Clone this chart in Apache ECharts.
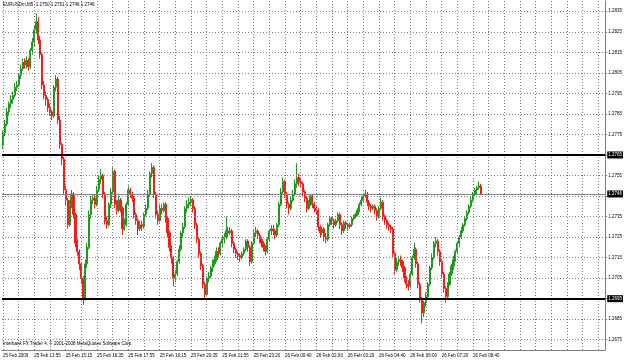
<!doctype html>
<html lang="en">
<head>
    <meta charset="utf-8">
    <title>EURUSDm,M5</title>
    <style>
        html, body { margin: 0; padding: 0; background: #fff; }
        #chart { width: 625px; height: 360px; }
    </style>
</head>
<body>
    <div id="chart"></div>
    <script src="https://cdn.jsdelivr.net/npm/echarts@6/dist/echarts.min.js"></script>
    <script>
        // M5 bars shown on the x axis (the empty tail is the chart shift)
        var barSlots = 308;

        // one label every 16 bars
        var timeLabels = ['25 Feb 2009', '25 Feb 13:55', '25 Feb 15:15', '25 Feb 16:35', '25 Feb 17:55',
            '25 Feb 19:15', '25 Feb 20:35', '25 Feb 21:55', '25 Feb 23:20', '26 Feb 00:40',
            '26 Feb 02:00', '26 Feb 03:20', '26 Feb 04:40', '26 Feb 06:00', '26 Feb 07:20', '26 Feb 08:40'];

        var priceTicks = [1.2675, 1.2685, 1.2695, 1.2705, 1.2715, 1.2725, 1.2735, 1.2745, 1.2755,
            1.2765, 1.2775, 1.2785, 1.2795, 1.2805, 1.2815, 1.2825, 1.2835];

        // horizontal lines drawn by the trader, and the last bid
        var levelLines = [1.2765, 1.2695];
        var lastPrice = 1.2746;

        // [open, close, low, high]
        var candles = [
            [1.2770, 1.2776, 1.2768, 1.2777], [1.2776, 1.2780, 1.2774, 1.2782], [1.2780, 1.2786, 1.2779, 1.2788], [1.2786, 1.2790, 1.2784, 1.2791],
            [1.2790, 1.2792, 1.2788, 1.2794], [1.2792, 1.2794, 1.2790, 1.2796], [1.2794, 1.2798, 1.2793, 1.2800], [1.2798, 1.2799, 1.2796, 1.2801],
            [1.2799, 1.2804, 1.2798, 1.2805], [1.2804, 1.2807, 1.2802, 1.2809], [1.2807, 1.2810, 1.2806, 1.2812], [1.2810, 1.2809, 1.2807, 1.2812],
            [1.2809, 1.2811, 1.2807, 1.2813], [1.2811, 1.2808, 1.2806, 1.2812], [1.2808, 1.2816, 1.2807, 1.2817], [1.2816, 1.2820, 1.2814, 1.2822],
            [1.2820, 1.2826, 1.2818, 1.2828], [1.2826, 1.2830, 1.2824, 1.2834], [1.2830, 1.2821, 1.2819, 1.2832], [1.2821, 1.2814, 1.2812, 1.2823],
            [1.2814, 1.2799, 1.2797, 1.2815], [1.2799, 1.2794, 1.2792, 1.2801], [1.2794, 1.2792, 1.2789, 1.2796], [1.2792, 1.2788, 1.2786, 1.2793],
            [1.2788, 1.2786, 1.2784, 1.2790], [1.2786, 1.2784, 1.2782, 1.2787], [1.2784, 1.2798, 1.2783, 1.2799], [1.2798, 1.2802, 1.2796, 1.2804],
            [1.2802, 1.2782, 1.2780, 1.2803], [1.2782, 1.2770, 1.2768, 1.2784], [1.2770, 1.2763, 1.2760, 1.2771], [1.2763, 1.2748, 1.2746, 1.2764],
            [1.2748, 1.2743, 1.2740, 1.2750], [1.2743, 1.2731, 1.2729, 1.2744], [1.2731, 1.2741, 1.2730, 1.2743], [1.2741, 1.2746, 1.2739, 1.2748],
            [1.2746, 1.2736, 1.2734, 1.2747], [1.2736, 1.2722, 1.2720, 1.2737], [1.2722, 1.2718, 1.2716, 1.2724], [1.2718, 1.2712, 1.2709, 1.2719],
            [1.2712, 1.2705, 1.2702, 1.2713], [1.2705, 1.2695, 1.2692, 1.2706], [1.2695, 1.2712, 1.2694, 1.2714], [1.2712, 1.2720, 1.2710, 1.2722],
            [1.2720, 1.2736, 1.2719, 1.2738], [1.2736, 1.2743, 1.2734, 1.2745], [1.2743, 1.2744, 1.2741, 1.2746], [1.2744, 1.2741, 1.2739, 1.2746],
            [1.2741, 1.2748, 1.2740, 1.2750], [1.2748, 1.2753, 1.2747, 1.2755], [1.2753, 1.2755, 1.2751, 1.2758], [1.2755, 1.2746, 1.2744, 1.2756],
            [1.2746, 1.2733, 1.2731, 1.2747], [1.2733, 1.2731, 1.2729, 1.2735], [1.2731, 1.2741, 1.2730, 1.2742], [1.2741, 1.2747, 1.2739, 1.2749],
            [1.2747, 1.2757, 1.2746, 1.2759], [1.2757, 1.2741, 1.2739, 1.2758], [1.2741, 1.2738, 1.2736, 1.2743], [1.2738, 1.2743, 1.2737, 1.2745],
            [1.2743, 1.2739, 1.2737, 1.2744], [1.2739, 1.2729, 1.2726, 1.2740], [1.2729, 1.2731, 1.2728, 1.2734], [1.2731, 1.2741, 1.2730, 1.2742],
            [1.2741, 1.2748, 1.2740, 1.2750], [1.2748, 1.2746, 1.2744, 1.2749], [1.2746, 1.2744, 1.2742, 1.2747], [1.2744, 1.2736, 1.2734, 1.2745],
            [1.2736, 1.2733, 1.2731, 1.2737], [1.2733, 1.2729, 1.2726, 1.2734], [1.2729, 1.2731, 1.2728, 1.2733], [1.2731, 1.2730, 1.2728, 1.2733],
            [1.2730, 1.2736, 1.2729, 1.2737], [1.2736, 1.2739, 1.2735, 1.2741], [1.2739, 1.2746, 1.2738, 1.2748], [1.2746, 1.2756, 1.2745, 1.2757],
            [1.2756, 1.2759, 1.2754, 1.2761], [1.2759, 1.2746, 1.2744, 1.2760], [1.2746, 1.2736, 1.2734, 1.2747], [1.2736, 1.2733, 1.2731, 1.2738],
            [1.2733, 1.2739, 1.2732, 1.2741], [1.2739, 1.2738, 1.2736, 1.2741], [1.2738, 1.2741, 1.2737, 1.2742], [1.2741, 1.2734, 1.2732, 1.2742],
            [1.2734, 1.2727, 1.2725, 1.2735], [1.2727, 1.2720, 1.2718, 1.2728], [1.2720, 1.2715, 1.2712, 1.2721], [1.2715, 1.2705, 1.2701, 1.2716],
            [1.2705, 1.2707, 1.2703, 1.2709], [1.2707, 1.2713, 1.2706, 1.2714], [1.2713, 1.2719, 1.2712, 1.2721], [1.2719, 1.2727, 1.2718, 1.2728],
            [1.2727, 1.2730, 1.2725, 1.2732], [1.2730, 1.2739, 1.2729, 1.2740], [1.2739, 1.2741, 1.2737, 1.2743], [1.2741, 1.2742, 1.2739, 1.2744],
            [1.2742, 1.2743, 1.2740, 1.2745], [1.2743, 1.2739, 1.2737, 1.2744], [1.2739, 1.2731, 1.2729, 1.2740], [1.2731, 1.2724, 1.2722, 1.2732],
            [1.2724, 1.2717, 1.2715, 1.2725], [1.2717, 1.2711, 1.2709, 1.2718], [1.2711, 1.2702, 1.2700, 1.2712], [1.2702, 1.2697, 1.2695, 1.2703],
            [1.2697, 1.2705, 1.2696, 1.2706], [1.2705, 1.2706, 1.2703, 1.2708], [1.2706, 1.2710, 1.2705, 1.2711], [1.2710, 1.2712, 1.2708, 1.2714],
            [1.2712, 1.2714, 1.2711, 1.2716], [1.2714, 1.2718, 1.2713, 1.2720], [1.2718, 1.2717, 1.2715, 1.2720], [1.2717, 1.2722, 1.2716, 1.2723],
            [1.2722, 1.2724, 1.2720, 1.2726], [1.2724, 1.2725, 1.2722, 1.2727], [1.2725, 1.2728, 1.2724, 1.2735], [1.2728, 1.2727, 1.2725, 1.2730],
            [1.2727, 1.2728, 1.2726, 1.2730], [1.2728, 1.2722, 1.2720, 1.2729], [1.2722, 1.2719, 1.2717, 1.2723], [1.2719, 1.2717, 1.2715, 1.2720],
            [1.2717, 1.2716, 1.2714, 1.2718], [1.2716, 1.2715, 1.2713, 1.2717], [1.2715, 1.2717, 1.2714, 1.2718], [1.2717, 1.2719, 1.2716, 1.2720],
            [1.2719, 1.2723, 1.2718, 1.2724], [1.2723, 1.2720, 1.2718, 1.2724], [1.2720, 1.2713, 1.2711, 1.2721], [1.2713, 1.2722, 1.2712, 1.2723],
            [1.2722, 1.2727, 1.2721, 1.2729], [1.2727, 1.2728, 1.2725, 1.2730], [1.2728, 1.2726, 1.2724, 1.2729], [1.2726, 1.2724, 1.2722, 1.2727],
            [1.2724, 1.2722, 1.2720, 1.2725], [1.2722, 1.2720, 1.2718, 1.2723], [1.2720, 1.2718, 1.2716, 1.2721], [1.2718, 1.2724, 1.2717, 1.2725],
            [1.2724, 1.2728, 1.2723, 1.2729], [1.2728, 1.2729, 1.2726, 1.2731], [1.2729, 1.2728, 1.2726, 1.2731], [1.2728, 1.2726, 1.2724, 1.2729],
            [1.2726, 1.2731, 1.2725, 1.2732], [1.2731, 1.2741, 1.2730, 1.2742], [1.2741, 1.2747, 1.2740, 1.2749], [1.2747, 1.2752, 1.2746, 1.2754],
            [1.2752, 1.2746, 1.2744, 1.2753], [1.2746, 1.2741, 1.2739, 1.2747], [1.2741, 1.2739, 1.2736, 1.2742], [1.2739, 1.2743, 1.2738, 1.2745],
            [1.2743, 1.2746, 1.2742, 1.2748], [1.2746, 1.2751, 1.2745, 1.2753], [1.2751, 1.2754, 1.2749, 1.2761], [1.2754, 1.2752, 1.2750, 1.2756],
            [1.2752, 1.2751, 1.2749, 1.2754], [1.2751, 1.2747, 1.2745, 1.2752], [1.2747, 1.2744, 1.2742, 1.2748], [1.2744, 1.2739, 1.2737, 1.2745],
            [1.2739, 1.2741, 1.2738, 1.2743], [1.2741, 1.2745, 1.2740, 1.2746], [1.2745, 1.2741, 1.2739, 1.2746], [1.2741, 1.2739, 1.2737, 1.2742],
            [1.2739, 1.2738, 1.2736, 1.2740], [1.2738, 1.2730, 1.2728, 1.2739], [1.2730, 1.2727, 1.2725, 1.2731], [1.2727, 1.2729, 1.2726, 1.2730],
            [1.2729, 1.2725, 1.2723, 1.2730], [1.2725, 1.2724, 1.2722, 1.2727], [1.2724, 1.2731, 1.2723, 1.2732], [1.2731, 1.2734, 1.2730, 1.2735],
            [1.2734, 1.2733, 1.2731, 1.2735], [1.2733, 1.2731, 1.2729, 1.2734], [1.2731, 1.2733, 1.2730, 1.2734], [1.2733, 1.2736, 1.2732, 1.2737],
            [1.2736, 1.2731, 1.2729, 1.2737], [1.2731, 1.2728, 1.2726, 1.2732], [1.2728, 1.2732, 1.2727, 1.2733], [1.2732, 1.2731, 1.2729, 1.2733],
            [1.2731, 1.2730, 1.2728, 1.2732], [1.2730, 1.2731, 1.2729, 1.2732], [1.2731, 1.2734, 1.2730, 1.2735], [1.2734, 1.2735, 1.2733, 1.2736],
            [1.2735, 1.2736, 1.2734, 1.2737], [1.2736, 1.2738, 1.2735, 1.2739], [1.2738, 1.2741, 1.2737, 1.2742], [1.2741, 1.2743, 1.2740, 1.2745],
            [1.2743, 1.2745, 1.2742, 1.2746], [1.2745, 1.2746, 1.2744, 1.2748], [1.2746, 1.2742, 1.2740, 1.2747], [1.2742, 1.2740, 1.2738, 1.2743],
            [1.2740, 1.2739, 1.2737, 1.2741], [1.2739, 1.2740, 1.2738, 1.2741], [1.2740, 1.2738, 1.2736, 1.2741], [1.2738, 1.2735, 1.2733, 1.2739],
            [1.2735, 1.2739, 1.2734, 1.2740], [1.2739, 1.2742, 1.2738, 1.2744], [1.2742, 1.2735, 1.2733, 1.2743], [1.2735, 1.2733, 1.2731, 1.2736],
            [1.2733, 1.2731, 1.2729, 1.2734], [1.2731, 1.2730, 1.2728, 1.2732], [1.2730, 1.2729, 1.2727, 1.2731], [1.2729, 1.2717, 1.2715, 1.2730],
            [1.2717, 1.2709, 1.2707, 1.2718], [1.2709, 1.2713, 1.2708, 1.2715], [1.2713, 1.2714, 1.2711, 1.2716], [1.2714, 1.2713, 1.2711, 1.2716],
            [1.2713, 1.2710, 1.2708, 1.2714], [1.2710, 1.2705, 1.2703, 1.2711], [1.2705, 1.2702, 1.2700, 1.2706], [1.2702, 1.2701, 1.2699, 1.2704],
            [1.2701, 1.2707, 1.2700, 1.2708], [1.2707, 1.2715, 1.2706, 1.2716], [1.2715, 1.2719, 1.2714, 1.2722], [1.2719, 1.2712, 1.2710, 1.2720],
            [1.2712, 1.2702, 1.2700, 1.2713], [1.2702, 1.2695, 1.2693, 1.2703], [1.2695, 1.2688, 1.2683, 1.2696], [1.2688, 1.2693, 1.2686, 1.2694],
            [1.2693, 1.2696, 1.2691, 1.2698], [1.2696, 1.2702, 1.2695, 1.2703], [1.2702, 1.2710, 1.2701, 1.2711], [1.2710, 1.2715, 1.2709, 1.2717],
            [1.2715, 1.2722, 1.2714, 1.2723], [1.2722, 1.2723, 1.2720, 1.2725], [1.2723, 1.2718, 1.2716, 1.2724], [1.2718, 1.2713, 1.2711, 1.2719],
            [1.2713, 1.2707, 1.2705, 1.2714], [1.2707, 1.2700, 1.2698, 1.2708], [1.2700, 1.2696, 1.2693, 1.2701], [1.2696, 1.2702, 1.2695, 1.2703],
            [1.2702, 1.2707, 1.2701, 1.2708], [1.2707, 1.2711, 1.2706, 1.2712], [1.2711, 1.2714, 1.2709, 1.2716], [1.2714, 1.2718, 1.2713, 1.2719],
            [1.2718, 1.2722, 1.2717, 1.2723], [1.2722, 1.2725, 1.2720, 1.2726], [1.2725, 1.2728, 1.2724, 1.2730], [1.2728, 1.2731, 1.2727, 1.2732],
            [1.2731, 1.2734, 1.2730, 1.2735], [1.2734, 1.2737, 1.2733, 1.2738], [1.2737, 1.2740, 1.2736, 1.2741], [1.2740, 1.2743, 1.2739, 1.2745],
            [1.2743, 1.2746, 1.2742, 1.2747], [1.2746, 1.2748, 1.2745, 1.2749], [1.2748, 1.2749, 1.2746, 1.2750], [1.2749, 1.2750, 1.2748, 1.2752],
            [1.2750, 1.2746, 1.2746, 1.2751]
        ];

        var categories = [];
        for (var i = 0; i < barSlots; i++) {
            categories.push(i);
        }

        var chart = echarts.init(document.getElementById('chart'), null, { renderer: 'canvas' });

        var gridStyle = { color: '#808080', width: 1, type: [1, 2] };

        // vertical grid every 8 bars, dotted price grid, then the solid levels on top
        var marks = [];
        for (var b = 0; b < barSlots; b += 8) {
            marks.push({ xAxis: b, label: { show: false }, lineStyle: gridStyle });
        }
        priceTicks.forEach(function (p) {
            marks.push({ yAxis: p, label: { show: false }, lineStyle: gridStyle });
        });
        levelLines.forEach(function (p) {
            marks.push({ yAxis: p, lineStyle: { color: '#000', width: 2, type: 'solid' } });
        });
        marks.push({ yAxis: lastPrice, lineStyle: { color: '#808080', width: 1, type: 'solid' } });

        chart.setOption({
            animation: false,
            backgroundColor: '#fff',
            textStyle: { fontFamily: 'Liberation Sans' },
            title: [{
                text: 'EURUSDm,M5  1.2750 1.2751 1.2746 1.2746',
                left: 3, top: 2, padding: 0,
                textStyle: { fontSize: 4.5, fontWeight: 'normal', color: '#000' }
            }, {
                text: 'Interbank FX Trader 4, © 2001-2008 MetaQuotes Software Corp.',
                left: 3, top: 341, padding: 0,
                textStyle: { fontSize: 4.5, fontWeight: 'normal', color: '#000' }
            }],
            grid: { left: 1, right: 19, top: 1, bottom: 10 },
            xAxis: {
                type: 'category',
                data: categories,
                boundaryGap: true,
                axisLine: { show: true, lineStyle: { color: '#808080', width: 1 } },
                axisTick: { show: false },
                axisLabel: {
                    interval: function (index) {
                        return index % 16 === 0 && index / 16 < timeLabels.length;
                    },
                    formatter: function (value, index) {
                        return timeLabels[index / 16];
                    },
                    align: 'left',
                    fontSize: 4.5,
                    margin: 3,
                    color: '#000'
                },
                splitLine: { show: false }
            },
            yAxis: {
                type: 'value',
                position: 'right',
                min: 1.2670,
                max: 1.2840,
                axisLine: { show: true, lineStyle: { color: '#808080', width: 1 } },
                axisTick: { show: true, length: 2, customValues: priceTicks, lineStyle: { color: '#808080' } },
                axisLabel: {
                    customValues: priceTicks,
                    formatter: function (v) { return v.toFixed(4); },
                    fontSize: 4.5,
                    margin: 3,
                    color: '#000'
                },
                splitLine: { show: false }
            },
            series: [{
                name: 'EURUSDm',
                type: 'candlestick',
                data: candles,
                barWidth: 1.6,
                itemStyle: {
                    color: '#1e9b1e',
                    color0: '#ff1a1a',
                    borderColor: '#1e9b1e',
                    borderColor0: '#ff1a1a',
                    borderWidth: 1
                },
                markLine: {
                    silent: true,
                    symbol: 'none',
                    precision: 4,
                    animation: false,
                    label: {
                        show: true,
                        position: 'end',
                        distance: 2,
                        formatter: function (p) { return p.value.toFixed(4); },
                        backgroundColor: '#000',
                        color: '#fff',
                        fontSize: 4.5,
                        padding: [1, 1]
                    },
                    data: marks
                }
            }]
        });
    </script>
</body>
</html>
